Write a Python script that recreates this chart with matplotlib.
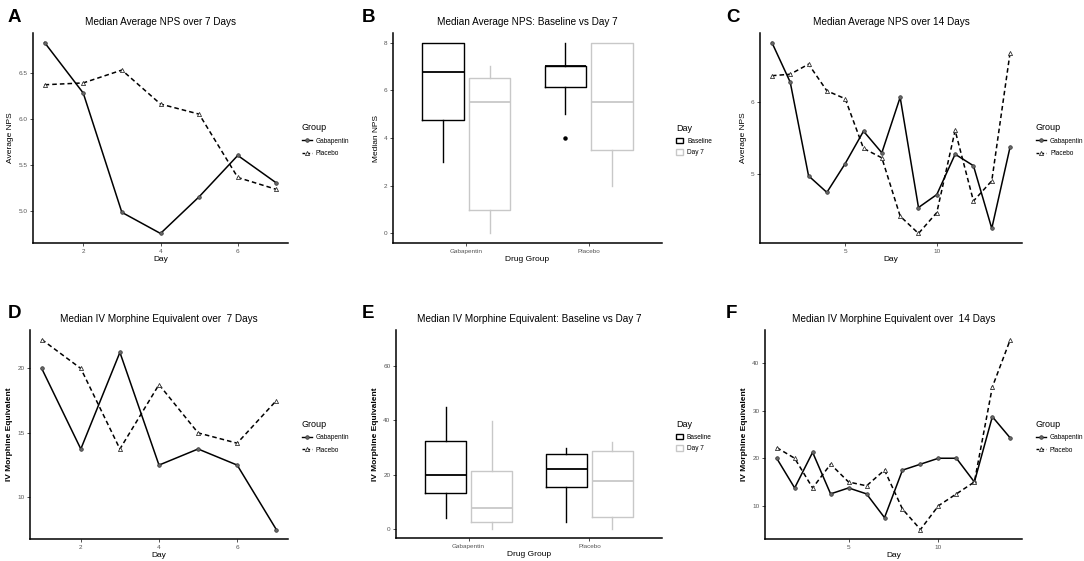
import matplotlib
matplotlib.use("Agg")
import matplotlib.pyplot as plt
from matplotlib.lines import Line2D
from matplotlib.patches import Patch

plt.rcParams["font.family"] = ["Liberation Sans", "DejaVu Sans"]

# --- data ---
days7 = [1, 2, 3, 4, 5, 6, 7]
days14 = list(range(1, 15))

nps_gaba = [6.83, 6.28, 4.98, 4.75, 5.15, 5.60, 5.30,
            6.07, 4.54, 4.72, 5.28, 5.12, 4.25, 5.38]
nps_plac = [6.37, 6.39, 6.53, 6.16, 6.05, 5.36, 5.23,
            4.42, 4.18, 4.47, 5.61, 4.63, 4.91, 6.69]

morph_gaba = [20.0, 13.75, 21.25, 12.5, 13.75, 12.5, 7.5,
              17.5, 18.75, 20.0, 20.0, 15.0, 28.75, 24.25]
morph_plac = [22.25, 20.0, 13.75, 18.75, 15.0, 14.2, 17.5,
              9.3, 5.0, 10.0, 12.5, 15.0, 35.0, 45.0]

groups = ["Gabapentin", "Placebo"]
day_levels = ["Baseline", "Day 7"]

# box stats: (whislo, q1, med, q3, whishi, fliers)
nps_box = {
    ("Gabapentin", "Baseline"): (3.0, 4.75, 6.75, 8.0, 8.0, []),
    ("Gabapentin", "Day 7"): (0.0, 1.0, 5.5, 6.5, 7.0, []),
    ("Placebo", "Baseline"): (5.0, 6.125, 7.0, 7.0, 8.0, [4.0]),
    ("Placebo", "Day 7"): (2.0, 3.5, 5.5, 8.0, 8.0, []),
}
morph_box = {
    ("Gabapentin", "Baseline"): (3.8, 13.1, 20.0, 32.3, 45.0, []),
    ("Gabapentin", "Day 7"): (0.0, 2.3, 7.5, 21.2, 39.7, []),
    ("Placebo", "Baseline"): (2.6, 15.5, 22.2, 27.6, 29.8, []),
    ("Placebo", "Day 7"): (0.0, 4.3, 17.5, 28.6, 32.1, []),
}

W, H = 1084, 561
TICK_GREY = "#555555"
DAY7_GREY = "#c8c8c8"

fig = plt.figure(figsize=(W / 100, H / 100), dpi=100)


def make_axes(x0, y0, x1, y1):
    ax = fig.add_axes([x0 / W, 1 - y1 / H, (x1 - x0) / W, (y1 - y0) / H])
    for s in ["top", "right"]:
        ax.spines[s].set_visible(False)
    for s in ["left", "bottom"]:
        ax.spines[s].set_linewidth(1.1)
    ax.tick_params(labelsize=4.6, labelcolor=TICK_GREY, length=2, width=0.6,
                   pad=2, color="#333333")
    return ax


def style(ax, title, xlabel, ylabel, bold_y=False):
    ax.set_title(title, fontsize=7.2, pad=6)
    ax.set_xlabel(xlabel, fontsize=6, labelpad=2)
    ax.set_ylabel(ylabel, fontsize=6, labelpad=3,
                  fontweight="bold" if bold_y else "normal")


def line_panel(ax, x, g, p):
    ax.plot(x, g, color="black", lw=1.1, marker="o", ms=2.6,
            mfc="#666666", mec="#333333", mew=0.5)
    ax.plot(x, p, color="black", lw=1.1, ls=(0, (3, 2)), marker="^", ms=3.0,
            mfc="white", mec="#333333", mew=0.6)
    handles = [
        Line2D([], [], color="black", lw=1.0, marker="o", ms=2.6,
               mfc="#666666", mec="#333333", mew=0.5),
        Line2D([], [], color="black", lw=1.0, ls=(0, (2, 1.5)), marker="^",
               ms=3.0, mfc="white", mec="#333333", mew=0.6),
    ]
    leg = ax.legend(handles, groups, title="Group", loc="center left",
                    bbox_to_anchor=(1.03, 0.49), frameon=False, fontsize=4.7,
                    title_fontsize=6.5, handlelength=1.6, handletextpad=0.6,
                    labelspacing=0.85)
    leg._legend_box.align = "left"


def box_panel(ax, stats):
    offsets = {"Baseline": -0.19, "Day 7": 0.19}
    colors = {"Baseline": "black", "Day 7": DAY7_GREY}
    for gi, g in enumerate(groups):
        for d in day_levels:
            lo, q1, med, q3, hi, fl = stats[(g, d)]
            st = [dict(whislo=lo, q1=q1, med=med, q3=q3, whishi=hi,
                       fliers=fl)]
            c = colors[d]
            ax.bxp(st, positions=[gi + 1 + offsets[d]], widths=0.34,
                   showcaps=False, patch_artist=False,
                   boxprops=dict(color=c, lw=1.0),
                   medianprops=dict(color=c, lw=1.3),
                   whiskerprops=dict(color=c, lw=1.0),
                   flierprops=dict(marker="o", ms=2.2, mfc="black",
                                   mec="black"))
    ax.set_xlim(0.4, 2.6)
    ax.set_xticks([1, 2])
    ax.set_xticklabels(groups)
    handles = [Patch(facecolor="white", edgecolor="black", lw=1.0),
               Patch(facecolor="white", edgecolor=DAY7_GREY, lw=1.0)]
    leg = ax.legend(handles, day_levels, title="Day", loc="center left",
                    bbox_to_anchor=(1.03, 0.49), frameon=False, fontsize=4.7,
                    title_fontsize=6.5, handlelength=1.1, handleheight=0.9,
                    handletextpad=0.6, labelspacing=0.7)
    leg._legend_box.align = "left"


# A
ax = make_axes(33, 33, 288, 243)
line_panel(ax, days7, nps_gaba[:7], nps_plac[:7])
ax.set_xticks([2, 4, 6])
ax.set_yticks([5.0, 5.5, 6.0, 6.5])
ax.set_yticklabels(["5.0", "5.5", "6.0", "6.5"])
style(ax, "Median Average NPS over 7 Days", "Day", "Average NPS")

# B
ax = make_axes(393, 33, 662, 243)
box_panel(ax, nps_box)
ax.set_ylim(-0.4, 8.4)
ax.set_yticks([0, 2, 4, 6, 8])
style(ax, "Median Average NPS: Baseline vs Day 7", "Drug Group", "Median NPS")

# C
ax = make_axes(760, 33, 1022, 243)
line_panel(ax, days14, nps_gaba, nps_plac)
ax.set_xticks([5, 10])
ax.set_yticks([5, 6])
style(ax, "Median Average NPS over 14 Days", "Day", "Average NPS")

# D
ax = make_axes(30, 330, 288, 539)
line_panel(ax, days7, morph_gaba[:7], morph_plac[:7])
ax.set_xticks([2, 4, 6])
ax.set_yticks([10, 15, 20])
style(ax, "Median IV Morphine Equivalent over  7 Days", "Day",
      "IV Morphine Equivalent", bold_y=True)

# E
ax = make_axes(396, 330, 662, 538)
box_panel(ax, morph_box)
ax.set_ylim(-3.5, 73.5)
ax.set_yticks([0, 20, 40, 60])
style(ax, "Median IV Morphine Equivalent: Baseline vs Day 7", "Drug Group",
      "IV Morphine Equivalent", bold_y=True)

# F
ax = make_axes(765, 330, 1022, 539)
line_panel(ax, days14, morph_gaba, morph_plac)
ax.set_xticks([5, 10])
ax.set_yticks([10, 20, 30, 40])
style(ax, "Median IV Morphine Equivalent over  14 Days", "Day",
      "IV Morphine Equivalent", bold_y=True)

# panel letters
for letter, (px, py) in zip("ABCDEF", [(8, 18), (362, 18), (726, 18),
                                       (8, 313), (362, 313), (726, 313)]):
    fig.text(px / W, 1 - py / H, letter, fontsize=13.5, fontweight="bold",
             va="center", ha="left")

fig.savefig("out.png", dpi=100)
